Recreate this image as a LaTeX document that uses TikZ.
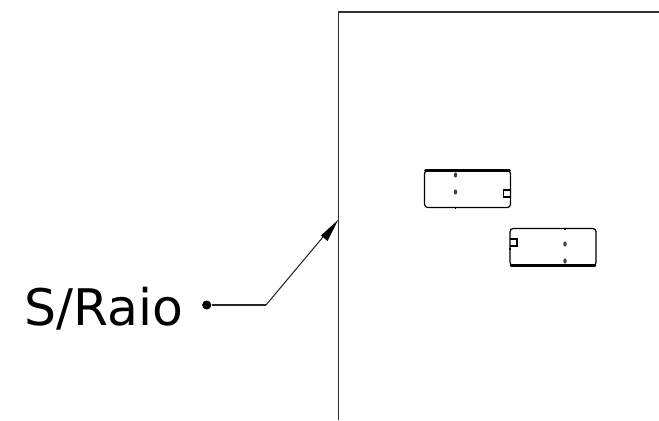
\documentclass[tikz,border=0pt]{standalone}
\usepackage{fontspec}
\setmainfont{DejaVu Sans}
\tikzset{
    outline/.style={draw=black!80,line width=0.6pt},
    leader/.style={draw=black!85,line width=0.6pt},
    slothole/.style={fill=black!75,draw=none},
    pics/slotplate/.style={code={
        \draw [line width=0.7pt,rounded corners=1.8pt] (-43,-18.5) rectangle (43,18.5);
        \draw [line width=1.6pt,line cap=round] (-42,-18.5) -- (42,-18.5);
        \fill [slothole] (-12,-14) ellipse (1.7 and 2.6);
        \fill [slothole] (-12,3) ellipse (1.7 and 2.6);
        \draw [line width=0.7pt] (-12,17.5) -- ++(0,2);
        \draw [line width=1pt] (43,1) -- (36,1) -- (36,8) -- (43,8);
        \draw [line width=1pt] (43,-3) -- (43,-1);
    }}
}
\begin{document}
\begin{tikzpicture}[x=0.02cm,y=-0.02cm]
    \useasboundingbox (0,0) rectangle (659,420);
    \draw [outline] (659,12) -- (338.5,12) -- (338.5,420);

    \pic at (467.5,189) {slotplate};
    \pic [rotate=180] at (553,247) {slotplate};

    \node (raio) [anchor=base west,inner sep=0pt,font=\fontsize{28.7}{28.7}\selectfont] at (24,325) {S/Raio};
    \node (dot) [circle,fill=black,inner sep=0pt,minimum size=5.2pt] at (206.7,305) {};
    \coordinate (bend) at (266,305);
    \coordinate (tip) at (338,220);
    \draw [leader] (dot) -- (bend);
    \draw [leader] (bend) -- (323,237);
    \fill (tip) -- (327.5,241) -- (321,235.5) -- cycle;
\end{tikzpicture}
\end{document}
